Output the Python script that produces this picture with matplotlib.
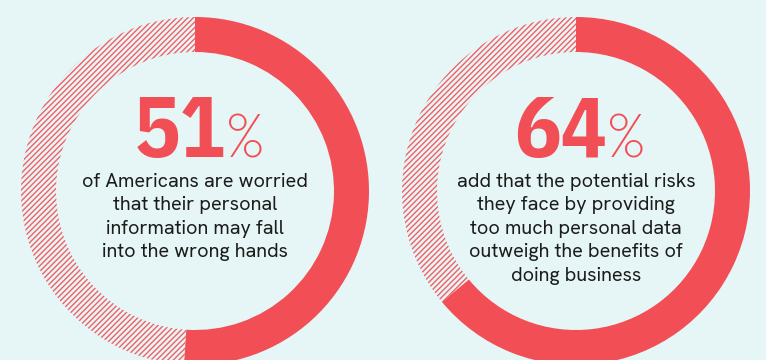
import matplotlib
matplotlib.use("Agg")
import matplotlib.pyplot as plt
from matplotlib.patches import Wedge

# Survey figures shown in the two rings
percentages = [51, 64]
captions = [
    "of Americans are worried\nthat their personal\ninformation may fall\ninto the wrong hands",
    "add that the potential risks\nthey face by providing\ntoo much personal data\noutweigh the benefits of\ndoing business",
]

BG = "#E6F5F5"
RED = "#F24E55"
HATCH = "#EF6168"
INK = "#1C1C1C"

W, H = 766, 360
fig = plt.figure(figsize=(W / 100, H / 100), dpi=100)
fig.patch.set_facecolor(BG)
ax = fig.add_axes([0, 0, 1, 1])
ax.set_xlim(0, W)
ax.set_ylim(0, H)
ax.set_axis_off()
ax.set_facecolor(BG)

plt.rcParams["hatch.linewidth"] = 1.0

centers = [(195, H - 191), (576, H - 191)]
r_out, ring = 174, 35

fig.canvas.draw()
renderer = fig.canvas.get_renderer()

for (cx, cy), pct, cap in zip(centers, percentages, captions):
    sweep = 360 * pct / 100
    # filled share, clockwise from 12 o'clock
    ax.add_patch(Wedge((cx, cy), r_out, 90 - sweep, 90, width=ring,
                       facecolor=RED, edgecolor="none", zorder=2))
    # remaining share, hatched
    ax.add_patch(Wedge((cx, cy), r_out, 90, 450 - sweep, width=ring,
                       facecolor=BG, edgecolor=HATCH, hatch="//////",
                       linewidth=0, zorder=1))

    # big percentage: bold digits with a light percent sign
    base_y = H - 157
    t_num = ax.text(0, base_y, f"{pct}", fontsize=62,
                    fontfamily=["IBM Plex Sans Condensed", "Lato"],
                    fontweight="bold", color=RED, ha="left", va="baseline")
    t_pct = ax.text(0, base_y, "%", fontsize=46, fontfamily="Outfit",
                    fontweight="light", color=RED, ha="left", va="baseline")
    w_num = t_num.get_window_extent(renderer).width
    w_pct = t_pct.get_window_extent(renderer).width
    gap = -2
    x0 = cx + 5 - (w_num + gap + w_pct) / 2
    t_num.set_x(x0)
    t_pct.set_x(x0 + w_num + gap)

    ax.text(cx, H - 173, cap, fontsize=14.3, fontfamily="Hanken Grotesk",
            color=INK, ha="center", va="top", linespacing=1.39)

fig.savefig("out.png", dpi=100, facecolor=BG)
